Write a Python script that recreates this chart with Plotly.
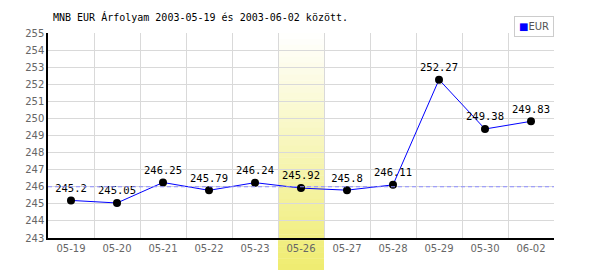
import plotly.graph_objects as go

dates = ["05-19", "05-20", "05-21", "05-22", "05-23", "05-26", "05-27", "05-28", "05-29", "05-30", "06-02"]
eur = [245.2, 245.05, 246.25, 245.79, 246.24, 245.92, 245.8, 246.11, 252.27, 249.38, 249.83]
labels = ["245.2", "245.05", "246.25", "245.79", "246.24", "245.92", "245.8", "246.11", "252.27", "249.38", "249.83"]
ref_level = 246.0
highlight_index = 5
title = "MNB EUR Árfolyam 2003-05-19 és 2003-06-02 között."

W, H = 600, 270
ml, mr, mt, mb = 48, 46, 33, 32
plot_h = H - mt - mb

fig = go.Figure()

fig.add_trace(go.Scatter(
    x=list(range(len(dates))), y=eur, mode="lines+markers+text",
    text=labels, textposition="top center",
    textfont=dict(family="DejaVu Sans Mono", size=10.5, color="black"),
    line=dict(color="#0000ff", width=1),
    marker=dict(color="black", size=8),
    showlegend=False, hoverinfo="skip", cliponaxis=False,
))

shapes = []
# gradient highlight band
n = 40
y_bottom = -mb / plot_h
top_c = (255, 255, 255)
bot_c = (239, 236, 112)
for i in range(n):
    t0 = i / n
    t1 = (i + 1) / n
    tm = (i + 0.5) / n
    c = tuple(round(top_c[k] + (bot_c[k] - top_c[k]) * tm) for k in range(3))
    y1 = 1 - t0 * (1 - y_bottom)
    y0 = 1 - t1 * (1 - y_bottom)
    shapes.append(dict(type="rect", xref="x", yref="paper",
                       x0=highlight_index - 0.5, x1=highlight_index + 0.5,
                       y0=y0 - 0.002, y1=y1, fillcolor="rgb(%d,%d,%d)" % c,
                       line=dict(width=0), layer="between"))
shapes.append(dict(type="line", xref="paper", yref="y", x0=0, x1=1, y0=ref_level, y1=ref_level,
                   line=dict(color="#8c8cff", width=1, dash="4px,3px"), layer="above"))
fig.update_layout(shapes=shapes)

fig.update_layout(
    width=W, height=H,
    margin=dict(l=ml, r=mr, t=mt, b=mb),
    paper_bgcolor="white", plot_bgcolor="white",
    title=dict(text=title, x=5 / (W - ml - mr), xref="paper", xanchor="left",
               y=1 - 17 / H, yref="container", yanchor="middle",
               font=dict(family="DejaVu Sans Mono", size=10, color="black")),
    xaxis=dict(
        range=[-0.5, len(dates) - 0.5],
        tickmode="array", tickvals=list(range(len(dates))), ticktext=dates,
        showgrid=False,
        minor=dict(tickmode="array", tickvals=[i - 0.5 for i in range(len(dates) + 1)],
                   showgrid=True, gridcolor="#d9d9d9", gridwidth=1, ticks=""),
        showline=True, linecolor="black", linewidth=1.5,
        tickfont=dict(family="DejaVu Sans", size=10, color="#666666"),
        zeroline=False, fixedrange=True,
    ),
    yaxis=dict(
        range=[243, 255], dtick=1, tick0=243,
        showgrid=True, gridcolor="#d9d9d9", gridwidth=1,
        showline=True, linecolor="black", linewidth=1.5,
        tickfont=dict(family="DejaVu Sans", size=10, color="#666666"),
        zeroline=False, fixedrange=True,
    ),
    annotations=[dict(
        xref="paper", yref="paper", x=1, y=1 + (mt - 16) / plot_h,
        xanchor="right", yanchor="top", showarrow=False,
        text="<span style='color:#0000ff'>■</span>EUR",
        font=dict(family="DejaVu Sans", size=10, color="#555555"),
        bgcolor="white", bordercolor="#cccccc", borderwidth=1, borderpad=4,
    )],
)

fig.write_html("out.html")
